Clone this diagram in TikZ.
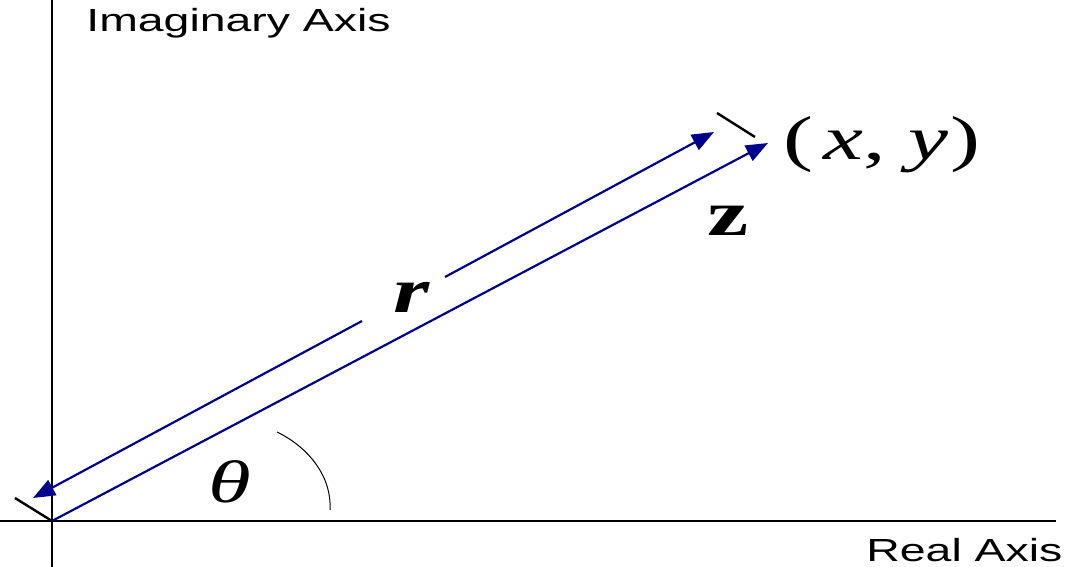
\documentclass[tikz,border=0pt]{standalone}
\usepackage{fontspec}
\setmainfont{Liberation Serif}[FakeStretch=1.45]
\setsansfont{Liberation Sans}[FakeStretch=1.45]
\usetikzlibrary{arrows.meta}
\definecolor{vecblue}{RGB}{0,0,140}

\begin{document}
\begin{tikzpicture}[
  x=0.5pt, y=-0.5pt,
  axis/.style={line width=1.25pt},
  extline/.style={line width=1.2pt},
  vec/.style={vecblue, line width=1.1pt, -{Triangle[length=11pt, width=8.5pt]}},
  lbl/.style={inner sep=0pt, anchor=base west}
]
\useasboundingbox (0,0) rectangle (1072,567);
\coordinate (O) at (52,521);
\coordinate (ytop) at (52,0);
\coordinate (ybot) at (52,567);
\coordinate (xleft) at (0,521);
\coordinate (xright) at (1056,521);
\coordinate (P) at (768,143);
\coordinate (rA) at (33,498);
\coordinate (rB) at (714,132);
\coordinate (rgapA) at (362,321);
\coordinate (rgapB) at (445,277);
\coordinate (extA) at (15,498);
\coordinate (extB1) at (717,113);
\coordinate (extB2) at (755,137);
\coordinate (arcS) at (277,432);
\coordinate (arcE) at (330,510);

\draw[axis] (ytop) -- (ybot);
\draw[axis] (xleft) -- (xright);
\draw[vec] (O) -- (P);
\draw[vec] (rgapA) -- (rA);
\draw[vec] (rgapB) -- (rB);
\draw[extline] (extA) -- (O);
\draw[extline] (extB1) -- (extB2);
\draw[line width=0.5pt] (arcS) .. controls (310,448) and (332,478) .. (arcE);

\node[lbl, font=\sffamily\fontsize{16}{19}\selectfont] (imag) at (86,32) {Imaginary Axis};
\node[lbl, font=\sffamily\fontsize{16}{19}\selectfont] (real) at (866,561) {Real Axis};
\node[lbl, font=\fontsize{31}{37}\selectfont] (pt) at (783,160) {(\,\textit{x}, \textit{y}\kern1pt)};
\node[lbl, font=\fontsize{32}{38}\selectfont\bfseries] (zlbl) at (707,235) {z};
\node[lbl, font=\fontsize{32}{38}\selectfont\bfseries\itshape] (rlbl) at (393,313) {r};
\node[lbl, font=\fontsize{30}{36}\selectfont\itshape] (theta) at (208,502) {θ};
\end{tikzpicture}
\end{document}
